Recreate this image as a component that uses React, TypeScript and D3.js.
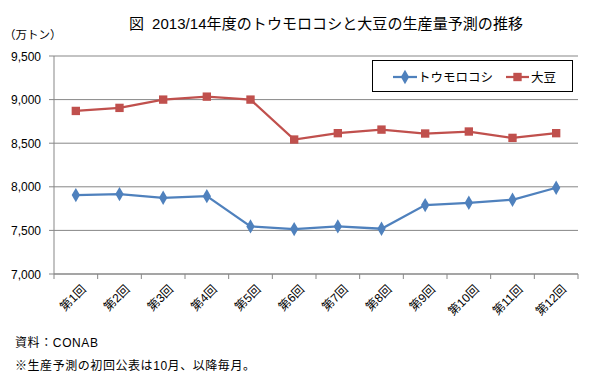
import React from "react";
import * as d3 from "d3";

const categories = ["第1回","第2回","第3回","第4回","第5回","第6回","第7回","第8回","第9回","第10回","第11回","第12回"];
const cornValues = [7905, 7916, 7874, 7893, 7546, 7515, 7546, 7519, 7790, 7817, 7851, 7989];
const soyValues = [8870, 8905, 9000, 9034, 9000, 8542, 8615, 8656, 8611, 8634, 8561, 8615];
const yTicks = [7000, 7500, 8000, 8500, 9000, 9500];
const seriesNames = ["トウモロコシ", "大豆"];

const W = 589, H = 382;
const L = 54, R = 578, T = 56, B = 274;
const FONT = "'Liberation Sans', 'Noto Sans CJK JP', sans-serif";
const BLUE = "#4F81BD", RED = "#C0504D", GRID = "#878787";

export default function App() {
  const x = d3.scaleBand<string>().domain(categories).range([L, R]);
  const y = d3.scaleLinear().domain([7000, 9500]).range([B, T]);
  const cx = (c: string) => (x(c) as number) + x.bandwidth() / 2;
  const line = d3.line<number>().x((_, i) => cx(categories[i])).y((v) => y(v));
  const diamond = d3.symbol().type(d3.symbolDiamond).size(60)() as string;
  const square = d3.symbol().type(d3.symbolSquare).size(70)() as string;

  return (
    <svg width={W} height={H} style={{ position: "absolute", left: 0, top: 0, background: "#fff" }} fontFamily={FONT}>
      <rect width={W} height={H} fill="#fff" />
      <text x={129} y={29} fontSize={15} fill="#000">図</text>
      <text x={152} y={29} fontSize={15} fill="#000" textLength={371} lengthAdjust="spacing">2013/14年度のトウモロコシと大豆の生産量予測の推移</text>
      <text x={4} y={39} fontSize={11.5} fill="#000">（万トン）</text>
      {yTicks.map((t) => (
        <g key={t}>
          <line x1={L} x2={R} y1={y(t)} y2={y(t)} stroke={GRID} strokeWidth={1} />
          <line x1={L - 5} x2={L} y1={y(t)} y2={y(t)} stroke={GRID} strokeWidth={1} />
          <text x={41} y={y(t) + 4.5} textAnchor="end" fontSize={12} fill="#000">{d3.format(",")(t)}</text>
        </g>
      ))}
      <line x1={L} x2={L} y1={T} y2={B} stroke={GRID} strokeWidth={1} />
      <line x1={L} x2={R} y1={B} y2={B} stroke={GRID} strokeWidth={1} />
      {categories.map((c, i) => (
        <line key={"t" + i} x1={x(c) as number} x2={x(c) as number} y1={B} y2={B + 5} stroke={GRID} />
      ))}
      <line x1={R} x2={R} y1={B} y2={B + 5} stroke={GRID} />
      {categories.map((c) => (
        <text key={c} transform={`translate(${cx(c) + 5},${B + 10}) rotate(-45)`} textAnchor="end" fontSize={12} fill="#000" dy="0.7em">{c}</text>
      ))}
      <path d={line(cornValues) as string} fill="none" stroke={BLUE} strokeWidth={2.25} />
      <path d={line(soyValues) as string} fill="none" stroke={RED} strokeWidth={2.25} />
      {cornValues.map((v, i) => (
        <path key={"c" + i} d={diamond} transform={`translate(${cx(categories[i])},${y(v)})`} fill={BLUE} />
      ))}
      {soyValues.map((v, i) => (
        <path key={"s" + i} d={square} transform={`translate(${cx(categories[i])},${y(v)})`} fill={RED} />
      ))}
      <rect x={372.5} y={60.5} width={200} height={31} fill="#fff" stroke="#000" strokeWidth={1} />
      <line x1={393} x2={417} y1={77} y2={77} stroke={BLUE} strokeWidth={2.25} />
      <path d={diamond} transform="translate(405,77)" fill={BLUE} />
      <text x={418} y={81.5} fontSize={12.5} fill="#000">{seriesNames[0]}</text>
      <line x1={506} x2={529} y1={77} y2={77} stroke={RED} strokeWidth={2.25} />
      <path d={square} transform="translate(517.5,77)" fill={RED} />
      <text x={531} y={81.5} fontSize={12.5} fill="#000">{seriesNames[1]}</text>
      <text x={15} y={347} fontSize={12} fill="#000" textLength={83} lengthAdjust="spacing">資料：CONAB</text>
      <text x={15} y={370} fontSize={12} fill="#000" textLength={240} lengthAdjust="spacing">※生産予測の初回公表は10月、以降毎月。</text>
    </svg>
  );
}
